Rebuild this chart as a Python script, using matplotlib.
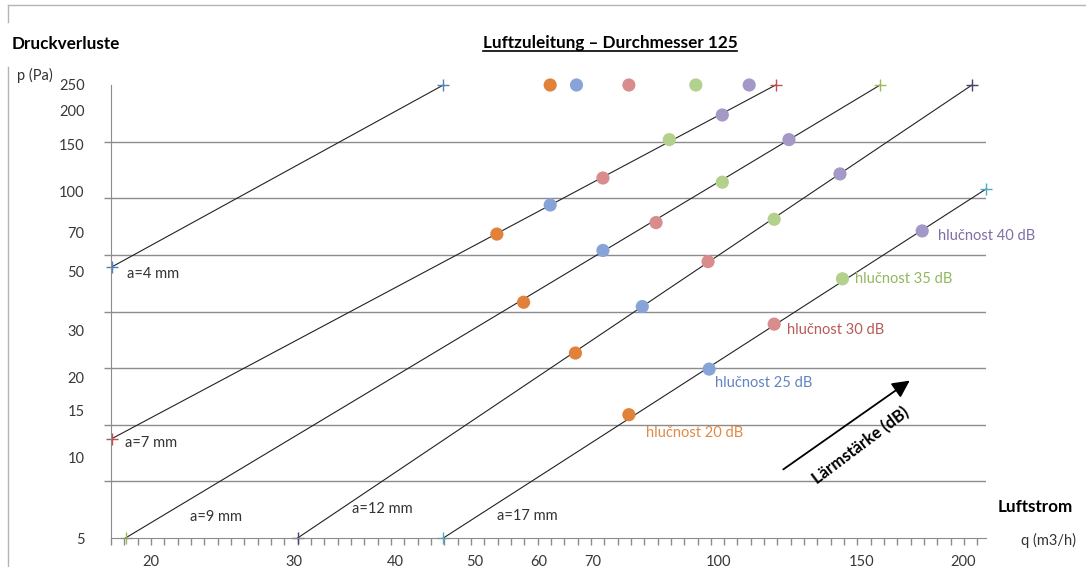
import numpy as np
import matplotlib.pyplot as plt
from matplotlib.lines import Line2D
from matplotlib.ticker import NullFormatter

plt.rcParams['font.family'] = ['Lato', 'DejaVu Sans']

# duct lines (start / end points), q in m3/h, p in Pa
line_names = ['a=4 mm', 'a=7 mm', 'a=9 mm', 'a=12 mm', 'a=17 mm']
line_q = [[17.9, 45.8], [17.9, 117.5], [18.6, 158], [30.3, 205], [45.8, 213.5]]
line_p = [[52, 250], [11.8, 250], [5, 250], [5, 250], [5, 102]]

# noise level points
noise_names = ['hlučnost 20 dB', 'hlučnost 25 dB', 'hlučnost 30 dB',
               'hlučnost 35 dB', 'hlučnost 40 dB']
q20 = [62, 53.3, 57.5, 66.6, 77.5]
p20 = [250, 69, 38.3, 24.7, 14.5]
q25 = [66.8, 62, 72, 80.5, 97.3]
p25 = [250, 88.7, 59.9, 36.9, 21.5]
q30 = [77.5, 72, 83.7, 97, 117]
p30 = [250, 112, 76.2, 54.4, 31.7]
q35 = [93.7, 86.9, 101, 117, 142]
p35 = [250, 156, 108, 78.4, 46.9]
q40 = [109, 101, 122, 141, 178]
p40 = [250, 193, 156, 116, 70.9]

x_ticks = [20, 30, 40, 50, 60, 70, 100, 150, 200]
y_ticks = [5, 10, 15, 20, 30, 50, 70, 100, 150, 200, 250]

marker_colors = ['#4f81bd', '#c0504d', '#9bbb59', '#4b3f6b', '#4bacc6']
line_label_off = [(15, -7), (13, -4), (64, 21), (54, 29), (54, 22)]
dot_colors = ['#e2813a', '#87a4d8', '#d98c8c', '#b3d08c', '#a398c6']
text_colors = ['#e08a45', '#5f85c0', '#b85a57', '#93b65e', '#7f6fa5']
noise_label_off = [(17, -18), (6, -14), (13, -6), (13, 0), (16, -5)]

W, H = 1086, 567
fig = plt.figure(figsize=(W / 100, H / 100), dpi=100)
ax = fig.add_axes([111 / W, 29 / H, 875 / W, 453 / H])
ax.set_xscale('log')
ax.set_yscale('log')
ax.set_xlim(17.85, 213.3)
ax.set_ylim(5, 250)

grey = '#8c8c8c'
ax.set_yticks(np.geomspace(5, 250, 9), minor=True)
ax.yaxis.grid(True, which='minor', color=grey, lw=1)
ax.set_yticks(y_ticks, labels=[str(v) for v in y_ticks])
ax.set_xticks(x_ticks, labels=[str(v) for v in x_ticks])
ax.set_xticks(17.85 * 10 ** (np.arange(66) * 13.33 / 812.2), minor=True)
ax.xaxis.set_minor_formatter(NullFormatter())
ax.yaxis.set_minor_formatter(NullFormatter())
ax.tick_params(which='major', length=0, labelsize=10.5, labelcolor='#383838')
ax.tick_params(axis='x', which='major', pad=12)
ax.tick_params(axis='y', which='major', pad=19)
ax.tick_params(which='minor', length=5, width=1, color=grey, direction='out')
for s in ['top', 'right']:
    ax.spines[s].set_visible(False)
for s in ['left', 'bottom']:
    ax.spines[s].set_color(grey)

for i in range(len(line_names)):
    ax.plot(line_q[i], line_p[i], color='#222222', lw=0.8, clip_on=False)
    ax.plot(line_q[i], line_p[i], ls='none', marker='+', ms=9, mew=1,
            color=marker_colors[i], clip_on=False)
    ax.annotate(line_names[i], (line_q[i][0], line_p[i][0]),
                xytext=line_label_off[i], textcoords='offset pixels',
                ha='left', va='center', fontsize=10.5, color='#333333')

noise_q = [q20, q25, q30, q35, q40]
noise_p = [p20, p25, p30, p35, p40]
for i in range(len(noise_names)):
    ax.scatter(noise_q[i], noise_p[i], s=90, color=dot_colors[i],
               edgecolors='none', zorder=3, clip_on=False)
    ax.annotate(noise_names[i], (noise_q[i][-1], noise_p[i][-1]),
                xytext=noise_label_off[i], textcoords='offset pixels',
                ha='left', va='center', fontsize=10.5, color=text_colors[i])

# loudness arrow
ax.annotate('', xy=(912, H - 379), xytext=(781, H - 471),
            xycoords='figure pixels', textcoords='figure pixels',
            arrowprops=dict(arrowstyle='-|>', color='black', lw=1.3,
                            mutation_scale=26))
fig.text(861 / W, 1 - 446 / H, 'Lärmstärke (dB)', rotation=37,
         ha='center', va='center', fontsize=12, fontweight='bold')

fig.text(12 / W, 1 - 44 / H, 'Druckverluste', fontsize=12.3,
         fontweight='bold', va='center')
title = fig.text(610 / W, 1 - 43 / H, 'Luftzuleitung – Durchmesser 125',
                 fontsize=12.3, fontweight='bold', ha='center', va='center')
fig.text(17 / W, 1 - 75 / H, 'p (Pa)', fontsize=10.5, va='center',
         color='#333333')
fig.text(998 / W, 1 - 507 / H, 'Luftstrom', fontsize=12.3, fontweight='bold',
         va='center')
fig.text(1021 / W, 1 - 540 / H, 'q (m3/h)', fontsize=10.5, va='center',
         color='#333333')

# underline for the title
bb = title.get_window_extent(renderer=fig.canvas.get_renderer())
fig.add_artist(Line2D([bb.x0 / W, bb.x1 / W], [(H - 51) / H] * 2,
                      color='black', lw=1.2))

# outer frame pieces
frame = '#b4b4b4'
fig.add_artist(Line2D([8 / W, 1], [1 - 5 / H] * 2, color=frame, lw=1))
fig.add_artist(Line2D([8 / W] * 2, [1 - 5 / H, 1 - 22 / H], color=frame, lw=1))
fig.add_artist(Line2D([8 / W] * 2, [1 - 67 / H, 0], color=frame, lw=1))

fig.savefig('out.png', dpi=100)
